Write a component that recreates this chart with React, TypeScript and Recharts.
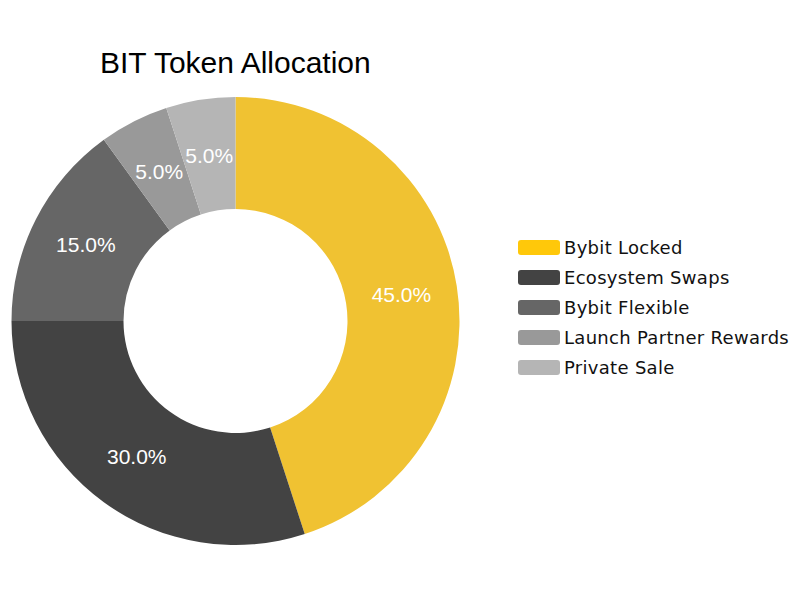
import { PieChart, Pie, Cell, Legend } from 'recharts'

const categories = ['Bybit Locked', 'Ecosystem Swaps', 'Bybit Flexible', 'Launch Partner Rewards', 'Private Sale']
const shares = [45, 30, 15, 5, 5]
const sliceColors = ['#f0c232', '#434343', '#666666', '#999999', '#b5b5b5']
const swatchColors = ['#ffc80a', '#434343', '#666666', '#999999', '#b5b5b5']

const data = categories.map((name, i) => ({ name, value: shares[i] }))

const RAD = Math.PI / 180

function renderLabel(props: any) {
  const { cx, cy, midAngle, innerRadius, outerRadius, percent } = props
  const r = (innerRadius + outerRadius) / 2
  const x = cx + r * Math.cos(-midAngle * RAD)
  const y = cy + r * Math.sin(-midAngle * RAD)
  return (
    <text
      x={x}
      y={y}
      fill="#ffffff"
      textAnchor="middle"
      dominantBaseline="central"
      fontSize={21}
      fontFamily="'Liberation Sans', Arial, sans-serif"
    >
      {`${(percent * 100).toFixed(1)}%`}
    </text>
  )
}

function LegendList() {
  return (
    <div style={{ fontFamily: "'DejaVu Sans', sans-serif", fontSize: 18, letterSpacing: 0.3, color: '#111' }}>
      {categories.map((name, i) => (
        <div key={name} style={{ display: 'flex', alignItems: 'center', height: 30 }}>
          <span
            style={{
              display: 'inline-block',
              width: 42,
              height: 15,
              borderRadius: 3,
              backgroundColor: swatchColors[i],
              marginRight: 4,
            }}
          />
          <span>{name}</span>
        </div>
      ))}
    </div>
  )
}

export default function App() {
  return (
    <div style={{ position: 'absolute', left: 0, top: 0, width: 800, height: 600, background: '#fff' }}>
      <PieChart width={800} height={600} margin={{ top: 0, right: 0, bottom: 0, left: 0 }}>
        <text
          x={100}
          y={73}
          fontSize={30}
          fill="#000"
          fontFamily="'Liberation Sans', Arial, sans-serif"
        >
          BIT Token Allocation
        </text>
        <Pie
          data={data}
          dataKey="value"
          nameKey="name"
          cx={235.5}
          cy={321}
          innerRadius={112}
          outerRadius={224}
          startAngle={90}
          endAngle={-270}
          stroke="none"
          label={renderLabel}
          labelLine={false}
          isAnimationActive={false}
        >
          {data.map((d, i) => (
            <Cell key={d.name} fill={sliceColors[i]} />
          ))}
        </Pie>
        <Legend
          content={<LegendList />}
          wrapperStyle={{ position: 'absolute', left: 518, top: 232, width: 282 }}
        />
      </PieChart>
    </div>
  )
}
